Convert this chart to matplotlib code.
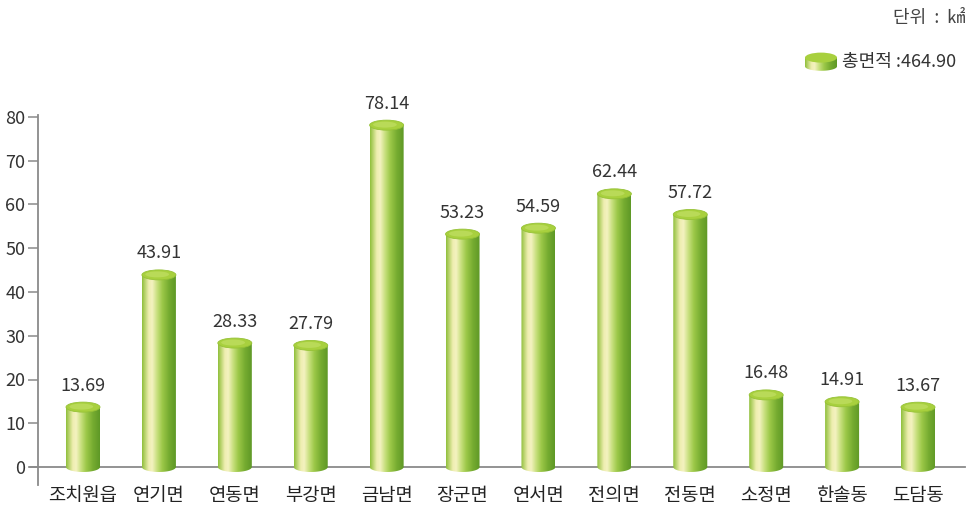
import numpy as np
import matplotlib.pyplot as plt
import matplotlib as mpl
from matplotlib.colors import LinearSegmentedColormap
from matplotlib.patches import Ellipse, PathPatch
from matplotlib.path import Path

plt.rcParams["font.family"] = ["Noto Sans CJK KR", "DejaVu Sans"]

# data
regions = ["조치원읍", "연기면", "연동면", "부강면", "금남면", "장군면",
           "연서면", "전의면", "전동면", "소정면", "한솔동", "도담동"]
areas = [13.69, 43.91, 28.33, 27.79, 78.14, 53.23,
         54.59, 62.44, 57.72, 16.48, 14.91, 13.67]
total_area = 464.90
yticks = [0, 10, 20, 30, 40, 50, 60, 70, 80]
unit_text = "단위  :  ㎢"

W, H = 975, 508
fig = plt.figure(figsize=(W / 100, H / 100), dpi=100)

# axes placed in pixel terms: x from 38 to 965, y from 115 (top) to 485 (bottom)
ax = fig.add_axes([38 / W, (H - 485) / H, (965 - 38) / W, (485 - 115) / H])
px_per_unit = (467 - 117) / 80.0
ax.set_ylim(-(485 - 467) / px_per_unit, 80 + (117 - 115) / px_per_unit)
step = (918 - 83) / 11.0
ax.set_xlim(-(83 - 38) / step, 11 + (965 - 918) / step)

cmap = LinearSegmentedColormap.from_list("cyl", [
    (0.0, "#8fbf3a"), (0.2, "#eeeeb0"), (0.3, "#f4f2c0"), (0.45, "#c6df7c"),
    (0.6, "#9cc848"), (0.8, "#75ab30"), (1.0, "#5e9826")])
grad = np.linspace(0, 1, 256).reshape(1, -1)

bar_w = 34 / step
ell_h = 10 / px_per_unit
theta = np.linspace(np.pi, 2 * np.pi, 40)

for i, v in enumerate(areas):
    x0, x1 = i - bar_w / 2, i + bar_w / 2
    # body outline: sides plus rounded bottom
    bx = i + bar_w / 2 * np.cos(theta)
    by = ell_h / 2 * np.sin(theta)
    verts = [(x0, v)] + list(zip(bx, by)) + [(x1, v), (x0, v)]
    path = Path(verts)
    patch = PathPatch(path, facecolor="none", edgecolor="none", zorder=3)
    ax.add_patch(patch)
    im = ax.imshow(grad, cmap=cmap, aspect="auto", zorder=3,
                   extent=[x0, x1, -ell_h, v], interpolation="bilinear")
    im.set_clip_path(patch)
    # top ellipse
    top = Ellipse((i, v), bar_w, ell_h, facecolor="#a8d03e",
                  edgecolor="#96c236", linewidth=0.6, zorder=4)
    ax.add_patch(top)
    ax.add_patch(Ellipse((i - bar_w * 0.05, v + ell_h * 0.05), bar_w * 0.7, ell_h * 0.6,
                         facecolor="#b9da58", edgecolor="none", zorder=4))
    ax.annotate(f"{v:.2f}", (i, v), xytext=(0, 9), textcoords="offset points",
                ha="center", va="bottom", fontsize=13, color="#333333")

# axes styling
for s in ["top", "right", "bottom"]:
    ax.spines[s].set_visible(False)
ax.spines["left"].set_color("#8a8a8a")
ax.spines["left"].set_linewidth(1.3)
ax.axhline(0, xmin=-8 / 927, xmax=1, color="#8a8a8a", linewidth=1.3,
           clip_on=False, zorder=2)
ax.set_yticks(yticks)
ax.set_yticklabels([str(t) for t in yticks])
ax.tick_params(axis="y", direction="out", length=7, width=1.1, color="#8a8a8a",
               labelsize=13, labelcolor="#333333", pad=2)
ax.set_xticks(range(len(regions)))
ax.set_xticklabels(regions)
ax.tick_params(axis="x", length=0, labelsize=13.5, labelcolor="#222222", pad=0)
ax.set_facecolor("none")

# unit and legend
fig.text(965 / W, 1 - 18 / H, unit_text, ha="right", va="center",
         fontsize=13, color="#444444")
fig.text(842 / W, 1 - 62 / H, f"총면적 :{total_area:.2f}", ha="left", va="center",
         fontsize=13, color="#333333")

iax = fig.add_axes([805 / W, 1 - 72 / H, 32 / W, 20 / H])
iax.set_xlim(-1, 1)
iax.set_ylim(0, 1)
iax.axis("off")
body = PathPatch(Path([(-1, 0.72)] + list(zip(np.cos(theta), 0.28 + 0.22 * np.sin(theta)))
                      + [(1, 0.72), (-1, 0.72)]), facecolor="none", edgecolor="none")
iax.add_patch(body)
iim = iax.imshow(grad, cmap=cmap, aspect="auto", extent=[-1, 1, 0, 0.72],
                 interpolation="bilinear")
iim.set_clip_path(body)
iax.add_patch(Ellipse((0, 0.72), 2, 0.5, facecolor="#a8d03e", edgecolor="none"))

fig.savefig("out.png", dpi=100)
